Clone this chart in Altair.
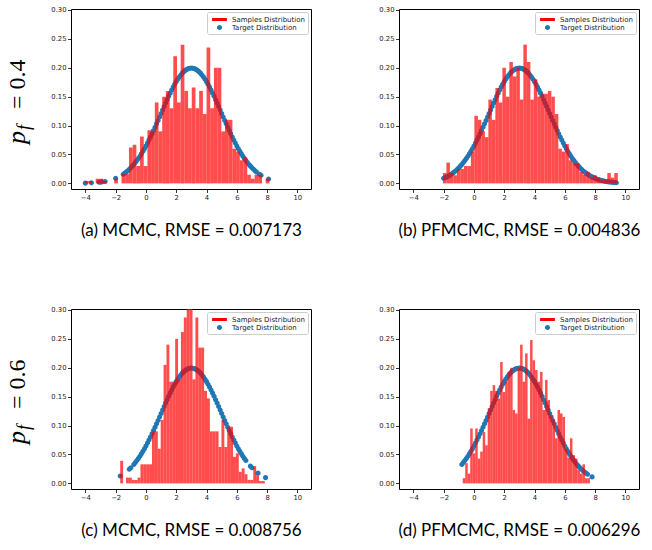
import altair as alt
import numpy as np
import pandas as pd

SERIES = ["Samples Distribution", "Target Distribution"]
COLORS = ["#ff0000", "#1f77b4"]

# target density values read along x (-4.0 ... 9.6, every 0.1)
TARGET_X = [round(-4.0 + 0.1 * i, 1) for i in range(137)]
TARGET_Y = [
    0.0004, 0.0005, 0.0006, 0.0007, 0.0009, 0.0010, 0.0012, 0.0014, 0.0016, 0.0019,
    0.0022, 0.0026, 0.0030, 0.0034, 0.0040, 0.0045, 0.0052, 0.0060, 0.0068, 0.0077,
    0.0088, 0.0099, 0.0112, 0.0126, 0.0142, 0.0159, 0.0177, 0.0198, 0.0220, 0.0244,
    0.0270, 0.0298, 0.0328, 0.0360, 0.0395, 0.0431, 0.0470, 0.0511, 0.0555, 0.0600,
    0.0648, 0.0697, 0.0749, 0.0802, 0.0857, 0.0913, 0.0971, 0.1030, 0.1089, 0.1149,
    0.1210, 0.1270, 0.1330, 0.1390, 0.1448, 0.1506, 0.1561, 0.1615, 0.1666, 0.1715,
    0.1760, 0.1803, 0.1841, 0.1876, 0.1907, 0.1933, 0.1955, 0.1972, 0.1985, 0.1992,
    0.1995,
    0.1992, 0.1985, 0.1972, 0.1955, 0.1933, 0.1907, 0.1876, 0.1841, 0.1803, 0.1760,
    0.1715, 0.1666, 0.1615, 0.1561, 0.1506, 0.1448, 0.1390, 0.1330, 0.1270, 0.1210,
    0.1149, 0.1089, 0.1030, 0.0971, 0.0913, 0.0857, 0.0802, 0.0749, 0.0697, 0.0648,
    0.0600, 0.0555, 0.0511, 0.0470, 0.0431, 0.0395, 0.0360, 0.0328, 0.0298, 0.0270,
    0.0244, 0.0220, 0.0198, 0.0177, 0.0159, 0.0142, 0.0126, 0.0112, 0.0099, 0.0088,
    0.0077, 0.0068, 0.0060, 0.0052, 0.0045, 0.0040, 0.0034, 0.0030, 0.0026, 0.0022,
    0.0019, 0.0016, 0.0014, 0.0012, 0.0010, 0.0009,
]

# (a) MCMC, p_f = 0.4
A_HEIGHTS = [0.004, 0.004, 0, 0.008, 0.008, 0.004, 0, 0, 0.008, 0,
             0.016, 0.016, 0.062, 0.067, 0.03, 0.081, 0.03, 0.092, 0.09, 0.14,
             0.09, 0.15, 0.16, 0.13, 0.22, 0.14, 0.24, 0.16, 0.13, 0.166,
             0.13, 0.16, 0.12, 0.235, 0.13, 0.20, 0.20, 0.09, 0.11, 0.11,
             0.06, 0.055, 0.04, 0.045, 0.015, 0.008, 0.015, 0.015, 0, 0.008]
A_RANGE = (-4.05, 8.15)
A_SPAN = (-1.5, 7.3)
A_EXTRA = [-4.0, -3.6, -3.1, -3.0, -2.9, -2.7, -2.0, 7.5, 7.6, 8.1]

# (b) PFMCMC, p_f = 0.4
B_HEIGHTS = [0.018, 0.036, 0.018, 0.014, 0.025, 0.025, 0.03, 0.03, 0.055, 0.117,
             0.11, 0.09, 0.08, 0.145, 0.11, 0.165, 0.14, 0.20, 0.15, 0.21,
             0.185, 0.20, 0.145, 0.24, 0.21, 0.145, 0.18, 0.15, 0.155, 0.155,
             0.16, 0.15, 0.12, 0.06, 0.055, 0.068, 0.04, 0.035, 0.035, 0.02,
             0.015, 0.02, 0.01, 0.014, 0.01, 0.006, 0.006, 0.018, 0.01, 0.018]
B_RANGE = (-2.05, 9.5)
B_SPAN = (-2.0, 9.4)
B_EXTRA = []

# (c) MCMC, p_f = 0.6
C_HEIGHTS = [0.039, 0, 0.01, 0.01, 0.006, 0.006, 0.01, 0.033, 0.033, 0.033,
             0.033, 0.09, 0.09, 0.06, 0.11, 0.205, 0.24, 0.176, 0.176, 0.25,
             0.18, 0.262, 0.287, 0.31, 0.31, 0.18, 0.287, 0.235, 0.235, 0.16,
             0.147, 0.09, 0.09, 0.09, 0.063, 0.11, 0.063, 0.098, 0.098, 0.046,
             0.052, 0.02, 0.026, 0.016, 0.006, 0.006, 0.03, 0.014, 0.004, 0.004]
C_RANGE = (-1.7, 7.85)
C_SPAN = (-0.8, 6.6)
C_EXTRA = [-1.7, -1.1, -1.0, 6.9, 7.0, 7.4, 7.9]

# (d) PFMCMC, p_f = 0.6
D_HEIGHTS = [0.009, 0.035, 0.017, 0.095, 0.052, 0.095, 0.043, 0.055, 0.089, 0.066,
             0.13, 0.16, 0.17, 0.16, 0.147, 0.21, 0.158, 0.176, 0.193, 0.2,
             0.127, 0.121, 0.2, 0.24, 0.176, 0.225, 0.112, 0.248, 0.213, 0.196,
             0.176, 0.193, 0.127, 0.179, 0.144, 0.118, 0.11, 0.078, 0.127, 0.121,
             0.115, 0.06, 0.044, 0.078, 0.049, 0.043, 0.023, 0.017, 0.033, 0.009,
             0.009]
D_RANGE = (-0.74, 7.66)
D_SPAN = (-0.8, 7.5)
D_EXTRA = [7.8]

CAPTIONS = ["(a) MCMC, RMSE = 0.007173", "(b) PFMCMC, RMSE = 0.004836",
            "(c) MCMC, RMSE = 0.008756", "(d) PFMCMC, RMSE = 0.006296"]
ROW_VALUES = ["= 0.4", "= 0.6"]

X_TICKS = [-4, -2, 0, 2, 4, 6, 8, 10]
Y_TICKS = [0.0, 0.05, 0.10, 0.15, 0.20, 0.25, 0.30]
X_DOMAIN = [-4.95, 10.9]
Y_DOMAIN = [-0.0097, 0.3017]

RECT_PATH = "M-1.75,-0.35H1.75V0.35H-1.75Z"
CIRCLE_PATH = "M0.6,0A0.6,0.6,0,1,1,-0.6,0A0.6,0.6,0,1,1,0.6,0Z"

W, H = 240, 180


def legend():
    return alt.Legend(title=None, orient="top-right", offset=3, padding=3,
                      fillColor="rgba(255,255,255,0.8)", strokeColor="#cccccc",
                      cornerRadius=2, rowPadding=0, symbolSize=72, symbolOffset=5,
                      labelOffset=8, labelFont="DejaVu Sans", labelFontSize=7,
                      labelColor="#222222", symbolStrokeWidth=0)


def panel(heights, rng, span, extra, caption, row_value=None):
    edges = np.linspace(rng[0], rng[1], len(heights) + 1)
    bars = pd.DataFrame({"x0": edges[:-1], "x1": edges[1:], "h": heights,
                         "b0": 0.0, "series": SERIES[0]})
    sel = [(x, y) for x, y in zip(TARGET_X, TARGET_Y)
           if (span[0] - 1e-9 <= x <= span[1] + 1e-9) or any(abs(x - e) < 1e-9 for e in extra)]
    pts = pd.DataFrame({"px": [s[0] for s in sel], "py": [s[1] for s in sel], "series": SERIES[1]})

    xs = alt.Scale(domain=X_DOMAIN, nice=False, zero=False)
    ys = alt.Scale(domain=Y_DOMAIN, nice=False, zero=False)
    color = alt.Color("series:N", scale=alt.Scale(domain=SERIES, range=COLORS), legend=legend())
    shape = alt.Shape("series:N", scale=alt.Scale(domain=SERIES, range=[RECT_PATH, CIRCLE_PATH]),
                      legend=legend())

    def xaxis():
        return alt.Axis(values=X_TICKS, title=caption, labelOverlap=False, tickCount=20,
                        labelExpr="replace(datum.label, '-', '\u2212')")

    def yaxis():
        return alt.Axis(values=Y_TICKS, title="", labelOverlap=False, tickCount=20,
                        labelExpr="format(datum.value, '.2f')")

    points = alt.Chart(pts).mark_point(filled=True, size=72, opacity=1).encode(
        x=alt.X("px:Q", scale=xs, axis=xaxis()),
        y=alt.Y("py:Q", scale=ys, axis=yaxis()),
        color=color, shape=shape,
    )
    hist = alt.Chart(bars).mark_rect(opacity=0.7, clip=True).encode(
        x=alt.X("x0:Q", scale=xs, axis=xaxis()), x2="x1:Q",
        y=alt.Y("h:Q", scale=ys, axis=yaxis()), y2="b0:Q", color=color,
    )
    layers = [points, hist]
    if row_value is not None:
        one = pd.DataFrame({"k": [0]})
        p = alt.Chart(one).mark_text(font="Liberation Serif", fontStyle="italic", fontSize=26,
                                     angle=270, align="left", baseline="alphabetic",
                                     color="black").encode(
            text=alt.value("p"), x=alt.value(-46.5), y=alt.value(135))
        f = alt.Chart(one).mark_text(font="Liberation Serif", fontStyle="italic", fontSize=18,
                                     angle=270, align="left", baseline="alphabetic",
                                     color="black").encode(
            text=alt.value("f"), x=alt.value(-41.5), y=alt.value(121))
        eq = alt.Chart(one).mark_text(font="Liberation Serif", fontSize=24,
                                      angle=270, align="left", baseline="alphabetic",
                                      color="black").encode(
            text=alt.value(row_value), x=alt.value(-46.5), y=alt.value(100))
        layers += [p, f, eq]
    return alt.layer(*layers).properties(width=W, height=H)


a = panel(A_HEIGHTS, A_RANGE, A_SPAN, A_EXTRA, CAPTIONS[0], ROW_VALUES[0])
b = panel(B_HEIGHTS, B_RANGE, B_SPAN, B_EXTRA, CAPTIONS[1])
c = panel(C_HEIGHTS, C_RANGE, C_SPAN, C_EXTRA, CAPTIONS[2], ROW_VALUES[1])
d = panel(D_HEIGHTS, D_RANGE, D_SPAN, D_EXTRA, CAPTIONS[3])

chart = alt.concat(a, b, c, d, columns=2, spacing={"row": 120, "column": 88},
                   bounds="flush").resolve_scale(
    x="independent", y="independent", color="independent", shape="independent"
).resolve_legend(color="independent", shape="independent").properties(
    padding={"left": 3, "top": 6, "right": 0, "bottom": 0}
).configure_view(stroke="black", strokeWidth=1).configure_axis(
    grid=False, domain=False, labelFont="DejaVu Sans", labelFontSize=6.8,
    labelColor="#222222", tickColor="black", tickSize=3.5, tickWidth=0.8,
    labelPadding=1.5, labelOverlap=False, labelFlush=False, labelBound=False,
    titleFont="Lato", titleFontSize=17,
    titleFontWeight="normal", titleColor="black", titlePadding=22,
)

chart.save("out.html", embed_options={"renderer": "svg", "actions": False})
